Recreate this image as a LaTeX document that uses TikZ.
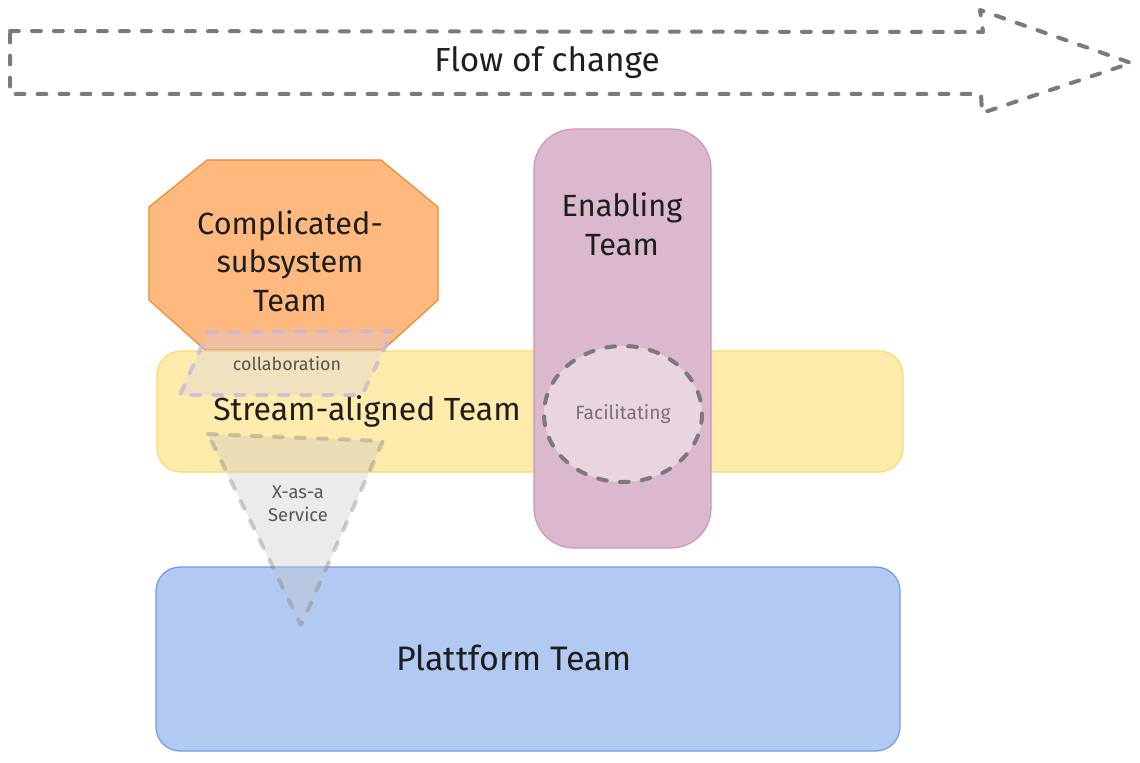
\documentclass[tikz,border=0pt]{standalone}
\usepackage{fontspec}
\setmainfont{Fira Sans}
\definecolor{orangefill}{HTML}{FFB97F}
\definecolor{orangeline}{HTML}{EB8A2E}
\definecolor{yellowfill}{HTML}{FFEBAB}
\definecolor{yellowline}{HTML}{FDD96C}
\definecolor{pinkfill}{HTML}{DBB8CD}
\definecolor{pinkline}{HTML}{CC96B6}
\definecolor{bluefill}{HTML}{B2C9F1}
\definecolor{blueline}{HTML}{6F9CEB}
\definecolor{dashgrey}{HTML}{7A7A7A}
\definecolor{inkblack}{HTML}{1E1E1E}
\definecolor{lavfill}{HTML}{D0CCF0}
\definecolor{lavline}{HTML}{C4B6DC}
\definecolor{greyfill}{HTML}{C8C8C8}
\tikzset{
  teambox/.style={line width=0.9pt,line join=round},
  dashbase/.style={line width=3pt,line cap=round,line join=round,dash pattern=on 6.6pt off 9.9pt},
  dashline/.style={dashbase,draw=dashgrey},
  teamlabel/.style={text=inkblack,align=center,inner sep=0pt},
  smalllabel/.style={text=inkblack,text opacity=0.72,align=center,inner sep=0pt}
}
\begin{document}
\begin{tikzpicture}[x=0.75pt,y=-0.75pt]
\useasboundingbox (0,0) rectangle (1140,763);
\fill[white] (0,0) rectangle (1140,763);
% flow arrow
\draw[dashline] (10,31) -- (983,32) -- (980,10) -- (1131,63) -- (982,113) -- (981,94) -- (10,94) -- cycle;
\node[teamlabel,font=\fontsize{25}{28}\selectfont] (flow) at (547,63) {Flow of change};
% complicated-subsystem
\filldraw[teambox,fill=orangefill,draw=orangeline] (207,160) -- (381,160) -- (438,207) -- (438,300) -- (383,350) -- (205,350) -- (149,300) -- (149,207) -- cycle;
\node[teamlabel,font=\fontsize{23}{29}\selectfont] (comp) at (290,261) {Complicated-\\subsystem\\Team};
% stream-aligned
\filldraw[teambox,fill=yellowfill,draw=yellowline,rounded corners=18pt] (157,351) rectangle (903,472);
% enabling
\filldraw[teambox,fill=pinkfill,draw=pinkline,rounded corners=30pt] (534,129) rectangle (711,548);
\node[teamlabel,font=\fontsize{23}{29}\selectfont] (enab) at (622,224) {Enabling\\Team};
% platform
\filldraw[teambox,fill=bluefill,draw=blueline,rounded corners=18pt] (156,567) rectangle (900,751);
\node[teamlabel,font=\fontsize{25.5}{29}\selectfont] (plat) at (514,658) {Plattform Team};
\node[teamlabel,font=\fontsize{24}{29}\selectfont] (stream) at (367,411) {Stream-aligned Team};
% collaboration
\filldraw[dashbase,draw=lavline,draw opacity=0.75,fill=lavfill,fill opacity=0.3] (208,332) -- (393,331) -- (362,395) -- (180,395) -- cycle;
\node[smalllabel,font=\fontsize{13.4}{17}\selectfont] (collab) at (287,364) {collaboration};
% x-as-a-service
\filldraw[dashbase,draw=dashgrey,draw opacity=0.35,fill=greyfill,fill opacity=0.35] (208,434) -- (383,441) -- (301,625) -- cycle;
\node[smalllabel,font=\fontsize{13.8}{17}\selectfont] (xas) at (298,504) {X-as-a\\Service};
% facilitating
\filldraw[dashline,fill=white,fill opacity=0.4] (623,414) ellipse [x radius=79,y radius=68];
\node[smalllabel,text opacity=0.55,font=\fontsize{14.4}{17}\selectfont] (facil) at (623,414) {Facilitating};
\end{tikzpicture}
\end{document}
